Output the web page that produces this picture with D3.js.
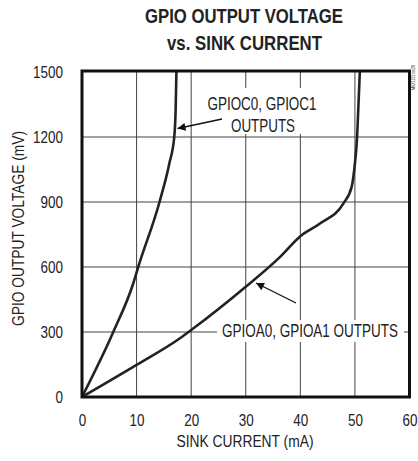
<!DOCTYPE html>
<html>
<head>
<meta charset="utf-8">
<script src="https://cdn.jsdelivr.net/npm/d3@7/dist/d3.min.js"></script>
<style>
  html, body { margin: 0; padding: 0; background: #fff; }
  svg { display: block; }
  text { font-family: "Liberation Sans", Arial, sans-serif; fill: #222; }
</style>
</head>
<body>
<svg id="chart" width="418" height="461"></svg>
<script>
// Sink current (mA) vs. output voltage (mV) for the two GPIO groups
const gpioCCurrent = [0, 5.73, 9.4, 10.3, 14.2, 16, 16.9, 17.15, 17.3];
const gpioCVoltage = [0, 300, 525, 600, 900, 1078, 1200, 1320, 1500];

const gpioACurrent = [0, 10, 17.95, 20, 30, 36.3, 39.9, 43.6, 47.9, 49.4, 50, 50.4, 50.65, 50.9];
const gpioAVoltage = [0, 148, 271, 309, 509, 647, 740, 801, 894, 970, 1078, 1200, 1350, 1500];

const xTicks = [0, 10, 20, 30, 40, 50, 60];
const yTicks = [0, 300, 600, 900, 1200, 1500];

const titleLines = ["GPIO OUTPUT VOLTAGE", "vs. SINK CURRENT"];
const xTitle = "SINK CURRENT (mA)";
const yTitle = "GPIO OUTPUT VOLTAGE (mV)";
const labelC = ["GPIOC0, GPIOC1", "OUTPUTS"];
const labelA = "GPIOA0, GPIOA1 OUTPUTS";
const docTag = "MAX1221 toc28";

const svg = d3.select("#chart");
const plot = { left: 82, right: 409.5, top: 72, bottom: 397 };

const x = d3.scaleLinear().domain([0, 60]).range([plot.left, plot.right]);
const y = d3.scaleLinear().domain([0, 1500]).range([plot.bottom, plot.top]);

// Narrow the glyphs of a text selection to imitate a condensed face
function condense(sel, factor) {
  sel.each(function () {
    const w = this.getComputedTextLength();
    d3.select(this).attr("textLength", w * factor).attr("lengthAdjust", "spacingAndGlyphs");
  });
  return sel;
}

// Title
svg.append("text").attr("x", 244).attr("y", 23).attr("text-anchor", "middle")
  .attr("font-size", 19.5).attr("font-weight", "bold").attr("fill", "#111")
  .attr("textLength", 198).attr("lengthAdjust", "spacingAndGlyphs")
  .text(titleLines[0]);
svg.append("text").attr("x", 244.5).attr("y", 50).attr("text-anchor", "middle")
  .attr("font-size", 19.5).attr("font-weight", "bold").attr("fill", "#111")
  .attr("textLength", 155).attr("lengthAdjust", "spacingAndGlyphs")
  .text(titleLines[1]);

// Grid
const grid = svg.append("g").attr("stroke", "#444").attr("stroke-width", 1);
grid.selectAll("line.v").data(xTicks.slice(1, -1)).join("line")
  .attr("x1", d => x(d)).attr("x2", d => x(d))
  .attr("y1", plot.top).attr("y2", plot.bottom);
grid.selectAll("line.h").data(yTicks.slice(1, -1)).join("line")
  .attr("x1", plot.left).attr("x2", plot.right)
  .attr("y1", d => y(d)).attr("y2", d => y(d));

// Axes
const xAxis = d3.axisBottom(x).tickValues(xTicks).tickFormat(d3.format("d")).tickSize(0).tickPadding(18);
const gx = svg.append("g").attr("transform", `translate(0,${plot.bottom})`).call(xAxis);
gx.select(".domain").remove();
gx.selectAll("text").attr("font-size", 16).attr("font-family", null).attr("fill", "#222");
condense(gx.selectAll("text"), 0.84);

const yAxis = d3.axisLeft(y).tickValues(yTicks).tickFormat(d3.format("d")).tickSize(0).tickPadding(19);
const gy = svg.append("g").attr("transform", `translate(${plot.left},0)`).call(yAxis);
gy.select(".domain").remove();
gy.selectAll("text").attr("font-size", 16).attr("font-family", null).attr("fill", "#222");
condense(gy.selectAll("text"), 0.84);

// Axis titles
svg.append("text").attr("x", 245).attr("y", 447).attr("text-anchor", "middle")
  .attr("font-size", 16).attr("textLength", 137).attr("lengthAdjust", "spacingAndGlyphs")
  .text(xTitle);
svg.append("text").attr("transform", "translate(24,228.5) rotate(-90)")
  .attr("text-anchor", "middle").attr("font-size", 16)
  .attr("textLength", 195).attr("lengthAdjust", "spacingAndGlyphs").text(yTitle);

// Label backgrounds that interrupt the grid
svg.append("rect").attr("x", 205).attr("y", 88).attr("width", 114).attr("height", 46).attr("fill", "#fff");
svg.append("rect").attr("x", 217).attr("y", 320).attr("width", 187).attr("height", 22).attr("fill", "#fff");

// Curves
const line = d3.line().x(d => x(d[0])).y(d => y(d[1])).curve(d3.curveMonotoneX);
const curves = [d3.zip(gpioCCurrent, gpioCVoltage), d3.zip(gpioACurrent, gpioAVoltage)];
svg.append("g").selectAll("path").data(curves).join("path")
  .attr("d", line).attr("fill", "none").attr("stroke", "#222")
  .attr("stroke-width", 2.6).attr("stroke-linejoin", "round");

// Frame
svg.append("rect").attr("x", plot.left).attr("y", plot.top - 1)
  .attr("width", plot.right - plot.left).attr("height", plot.bottom - plot.top + 1)
  .attr("fill", "none").attr("stroke", "#111").attr("stroke-width", 3);

// Annotation labels
svg.append("text").attr("x", 262).attr("y", 109.5).attr("text-anchor", "middle")
  .attr("font-size", 18.5).attr("textLength", 109).attr("lengthAdjust", "spacingAndGlyphs")
  .text(labelC[0]);
svg.append("text").attr("x", 263).attr("y", 131.5).attr("text-anchor", "middle")
  .attr("font-size", 18.5).attr("textLength", 64).attr("lengthAdjust", "spacingAndGlyphs")
  .text(labelC[1]);
svg.append("text").attr("x", 310).attr("y", 337).attr("text-anchor", "middle")
  .attr("font-size", 18.5).attr("textLength", 176).attr("lengthAdjust", "spacingAndGlyphs")
  .text(labelA);

// Arrows
const defs = svg.append("defs");
defs.append("marker").attr("id", "head").attr("viewBox", "0 0 10 10")
  .attr("refX", 10).attr("refY", 5).attr("markerWidth", 13).attr("markerHeight", 8)
  .attr("markerUnits", "userSpaceOnUse").attr("orient", "auto")
  .append("path").attr("d", "M0,0 L10,5 L0,10 Z").attr("fill", "#111");
svg.append("line").attr("x1", 222).attr("y1", 119).attr("x2", 177.5).attr("y2", 128.5)
  .attr("stroke", "#111").attr("stroke-width", 1.3).attr("marker-end", "url(#head)");
svg.append("line").attr("x1", 296).attr("y1", 303).attr("x2", 256).attr("y2", 283)
  .attr("stroke", "#111").attr("stroke-width", 1.3).attr("marker-end", "url(#head)");

// Document tag along the right edge
svg.append("text").attr("transform", "translate(415,90) rotate(-90)")
  .attr("text-anchor", "start").attr("font-size", 6).attr("fill", "#777")
  .attr("textLength", 25).attr("lengthAdjust", "spacingAndGlyphs").text(docTag);
</script>
</body>
</html>
